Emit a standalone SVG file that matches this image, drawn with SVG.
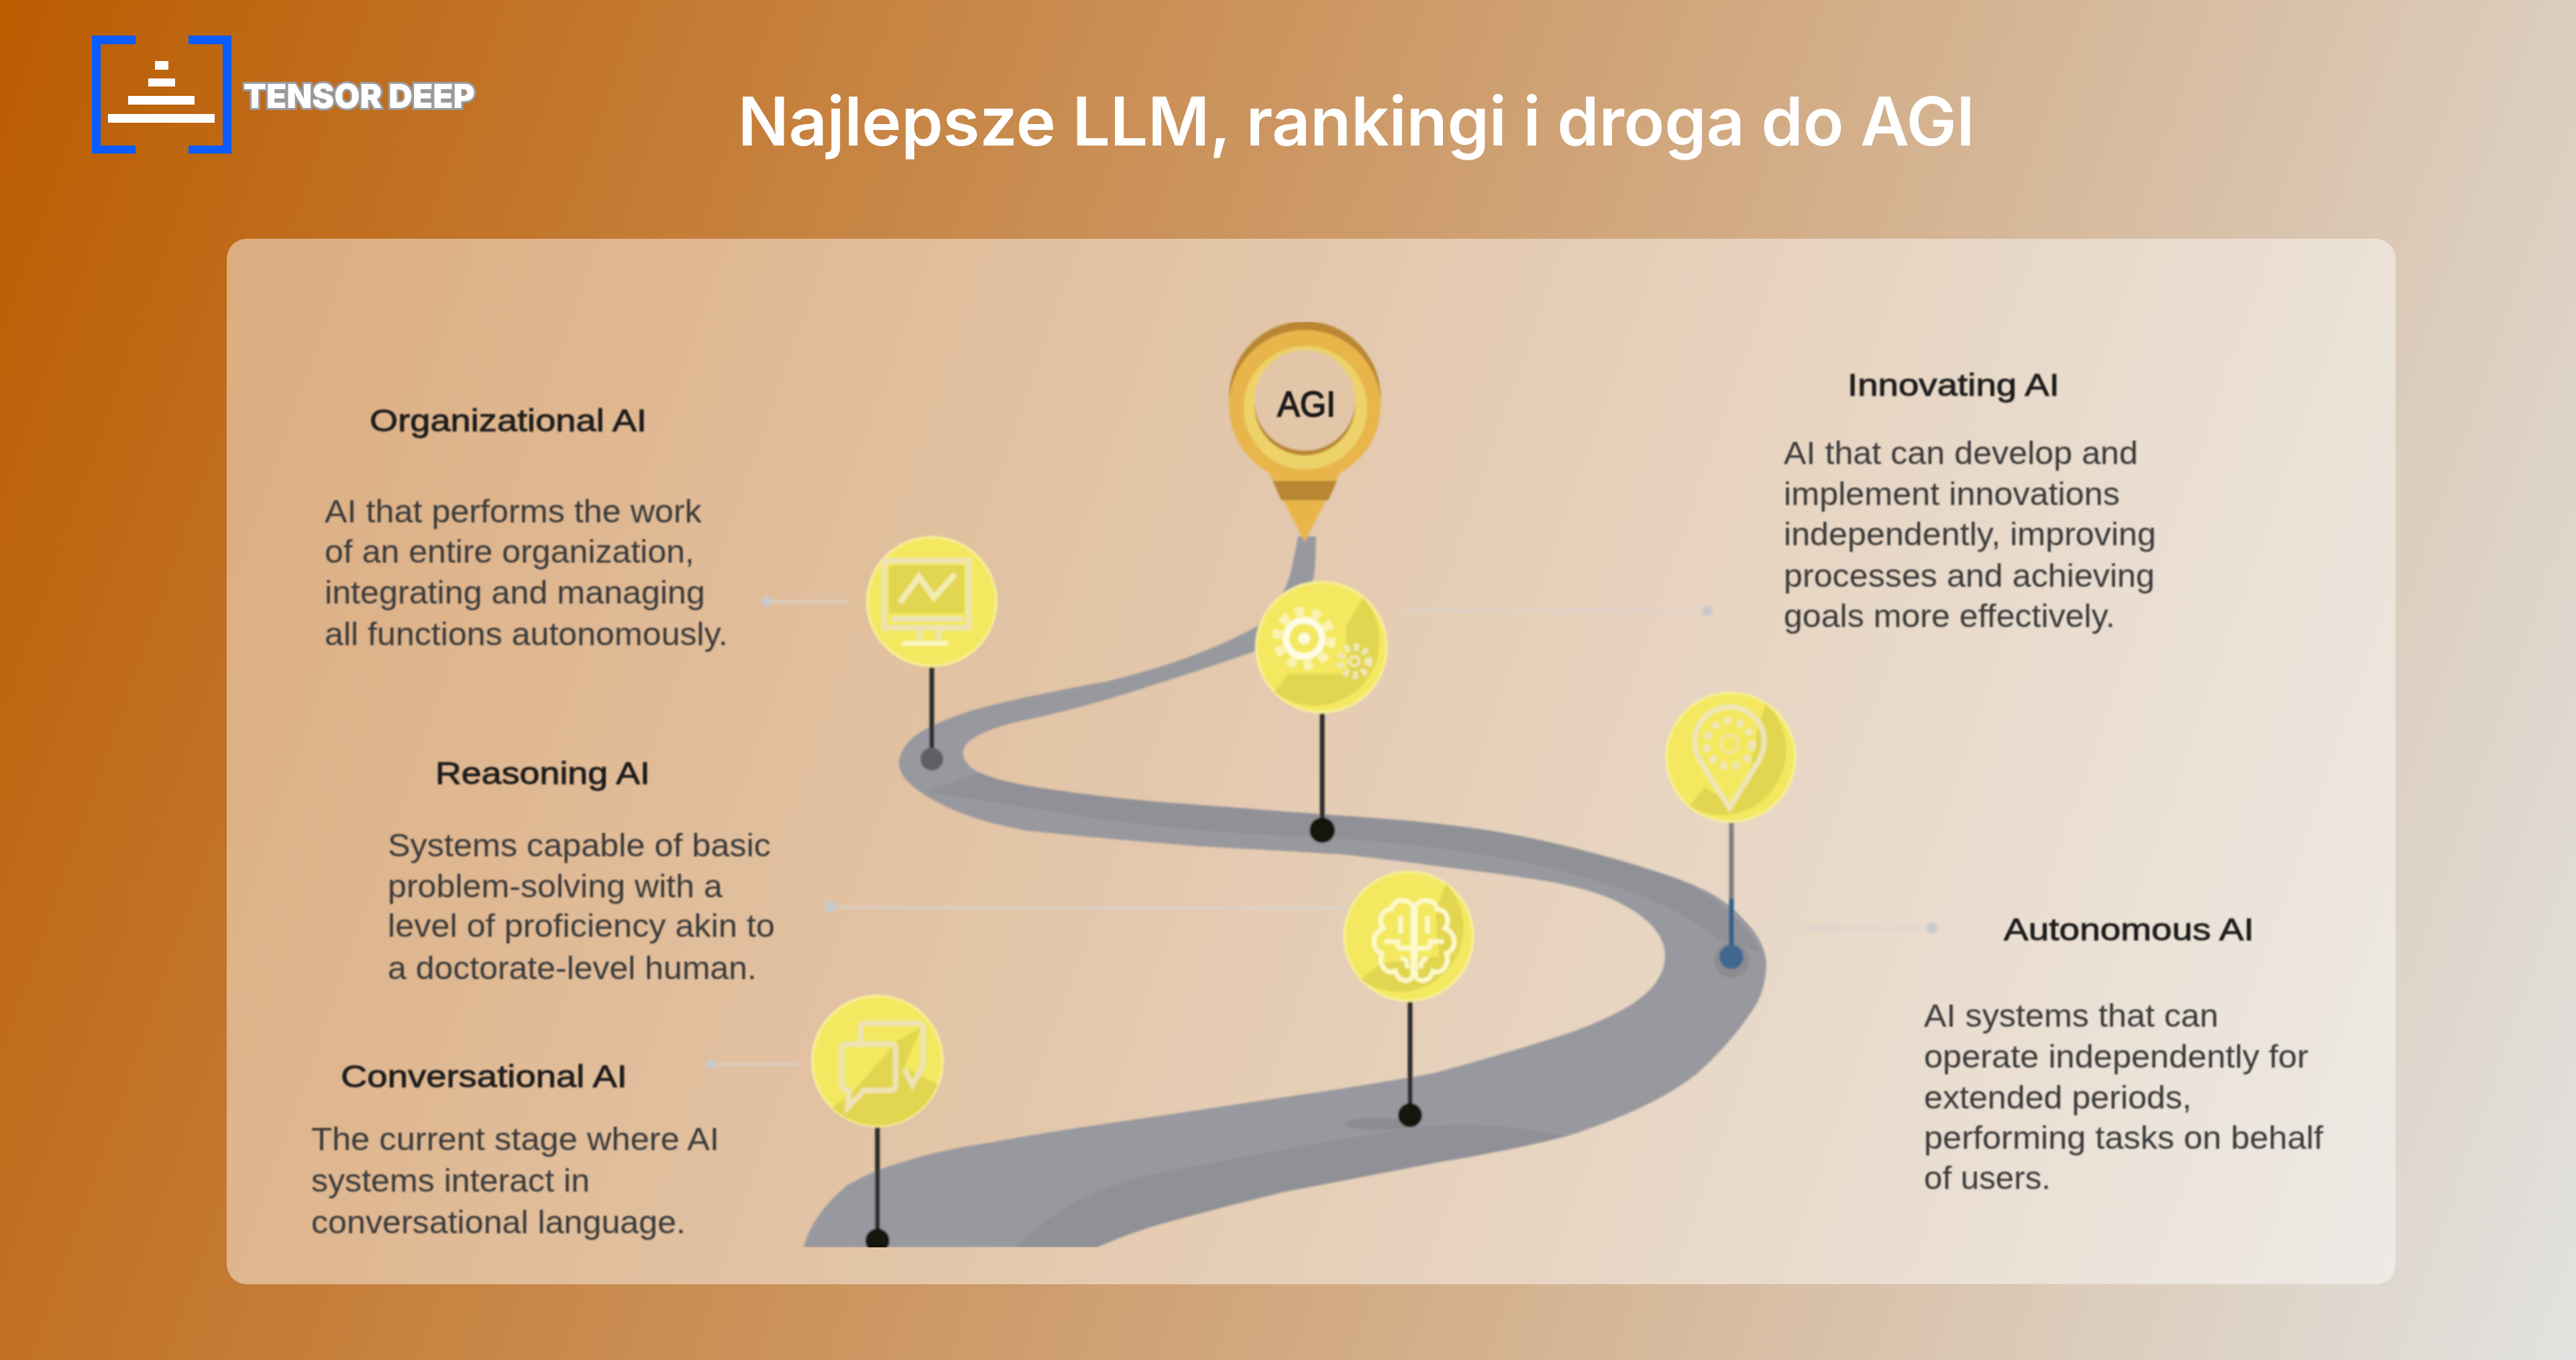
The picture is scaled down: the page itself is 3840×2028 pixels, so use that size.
<svg xmlns="http://www.w3.org/2000/svg" xmlns:xlink="http://www.w3.org/1999/xlink" width="3840" height="2028" viewBox="0 0 3840 2028">
<defs>
<linearGradient id="bg" gradientUnits="userSpaceOnUse" x1="0" y1="0" x2="4053" y2="1417"><stop offset="0" stop-color="#bb5c00"/><stop offset="1" stop-color="#e2e2e0"/></linearGradient>
<filter id="soft" x="-5%" y="-5%" width="110%" height="110%"><feGaussianBlur stdDeviation="1.6"/></filter>
<filter id="softText" x="-5%" y="-10%" width="110%" height="120%"><feGaussianBlur stdDeviation="0.9"/></filter>
<clipPath id="illus"><rect x="1000" y="480" width="1950" height="1380"/></clipPath>
<path id="roadShape" d="M1962 800 L1960 850 Q1950 925 1871 971 Q1760 1010 1650 1043 Q1596 1059 1532 1073 Q1469 1086 1445 1105 Q1425 1124 1447 1144 Q1469 1163 1565 1177 Q1660 1191 1755 1198 Q1851 1205 1925 1211 Q2000 1216 2077 1222 Q2153 1228 2230 1240 Q2306 1253 2382 1274 Q2459 1295 2510 1314 Q2570 1336 2600 1372 Q2633 1405 2633 1440 Q2632 1480 2610 1510 Q2580 1555 2531 1600 Q2470 1650 2340 1693 Q2250 1716 2150 1732 Q2030 1755 1915 1777 Q1820 1800 1724 1827 Q1680 1840 1635 1860 L1198 1860 Q1210 1812 1262 1768 Q1300 1745 1345 1733 Q1400 1715 1469 1705 Q1560 1688 1660 1674 Q1790 1655 1915 1636 Q2040 1618 2138 1600 Q2230 1575 2306 1551 Q2375 1530 2420 1505 Q2482 1470 2482 1425 Q2482 1385 2425 1352 Q2385 1328 2306 1314 Q2230 1302 2153 1293 Q2075 1282 2000 1274 Q1900 1268 1788 1262 Q1660 1252 1533 1239 Q1450 1225 1395 1195 Q1338 1165 1340 1135 Q1345 1100 1399 1078 Q1430 1064 1469 1054 Q1535 1037 1650 1016 Q1780 985 1872 935 Q1912 900 1925 850 Q1930 825 1935 800 Z"/>
<clipPath id="roadClip"><use href="#roadShape"/></clipPath>
<style>
.head{font-family:"Liberation Sans",Arial,sans-serif;font-size:46px;fill:#1d1d1d;stroke:#1d1d1d;stroke-width:.9px}
.body{font-family:"Liberation Sans",Arial,sans-serif;font-size:48px;fill:#3a3a3a}
.leader{stroke:#d9d6d2;stroke-width:5;opacity:.6;fill:none}
.ldot{fill:#c9c9ca}
.stem{stroke:#2a2a2a;stroke-width:7;fill:none}
.disc{fill:#f3e85f;stroke:#f6ee95;stroke-width:4}
.shade{fill:#e2d550}
.iconA{fill:none;stroke:#efe3b4;stroke-width:8}
.iconB{fill:none;stroke:#fdf9c8;stroke-width:7}
</style>
</defs>
<rect id="background" width="3840" height="2028" fill="url(#bg)"/>
<g id="logo">
<path d="M202 53H137V229H202V217H150V66H202Z M281 53H345V229H281V217H332V66H281Z" fill="#0a5cff"/>
<rect x="231" y="91" width="20" height="13" fill="#fff"/>
<rect x="221" y="117" width="40" height="12" fill="#fff"/>
<rect x="191" y="143" width="99" height="13" fill="#fff"/>
<rect x="161" y="170" width="159" height="13" fill="#fff"/>
<text x="363" y="161" font-family="Inter,'Liberation Sans',sans-serif" font-weight="900" font-size="50" textLength="345" lengthAdjust="spacingAndGlyphs" fill="#fff" stroke="#9a9ba0" stroke-width="6" paint-order="stroke">TENSOR DEEP</text>
</g>
<text id="title" x="1100" y="217" font-family="Inter,'Liberation Sans',sans-serif" font-weight="600" font-size="100" textLength="1844" fill="#fff">Najlepsze LLM, rankingi i droga do AGI</text>
<rect id="panel" x="338" y="356" width="3233" height="1559" rx="30" fill="#fff" fill-opacity=".45"/>
<g clip-path="url(#illus)">
<g filter="url(#soft)">
<g id="road">
<use href="#roadShape" fill="#98999e"/>
<g clip-path="url(#roadClip)">
<path d="M1380 1180 L1469 1150 Q1660 1175 2000 1205 Q2300 1230 2480 1300 Q2590 1350 2625 1420 L2560 1400 Q2500 1350 2400 1320 Q2250 1268 1990 1250 Q1750 1240 1600 1215 Z" fill="#909196"/>
<path d="M1507 1870 Q1570 1790 1700 1755 Q1950 1705 2120 1680 Q2230 1670 2360 1700 L2150 1740 L1650 1880 Z" fill="#909196"/>
<ellipse cx="2056" cy="1676" rx="52" ry="9" fill="#8b8c90"/>
</g>
<circle cx="2581" cy="1432" r="26" fill="#8d8d8f"/>
</g>
<g id="connectors">
<path class="leader" d="M1150 897H1265"/><circle class="ldot" cx="1143" cy="897" r="8"/>
<path class="leader" d="M2094 911H2530"/><circle class="ldot" cx="2545" cy="911" r="8"/>
<path class="leader" d="M1250 1353H2040"/><circle class="ldot" cx="1238" cy="1352" r="9"/>
<path class="leader" d="M2627 1384H2870"/><circle class="ldot" cx="2880" cy="1384" r="8"/>
<path class="leader" d="M1070 1587H1190"/><circle class="ldot" cx="1060" cy="1587" r="8"/>
<path class="stem" d="M1389 990V1120"/><circle cx="1389" cy="1132" r="17" fill="#5e6064"/>
<path class="stem" d="M1971 1059V1225"/><circle cx="1971" cy="1238" r="19" fill="#151411"/>
<path class="stem" d="M2102 1490V1650"/><circle cx="2102" cy="1663" r="18" fill="#151411"/>
<path class="stem" d="M1308 1676V1840"/><circle cx="1308" cy="1850" r="18" fill="#151411"/>
<path d="M2581 1222V1340" stroke="#7d7d7f" stroke-width="7"/><path d="M2581 1340V1415" stroke="#2f5f8a" stroke-width="7"/><circle cx="2581" cy="1427" r="18" fill="#40688f"/>
</g>
<g id="agi-pin">
<path d="M1889 700 L1945 808 L2000 700Z" fill="#e8b54c"/>
<circle cx="1945" cy="592" r="113" fill="#b98732"/>
<circle cx="1945" cy="605" r="113" fill="#e8b54c"/>
<path d="M1897 717H1993L1980 746H1910Z" fill="#b98732"/>
<circle cx="1946" cy="608" r="92" fill="#ecd268"/>
<circle cx="1945" cy="604" r="75" fill="#b98732"/>
<circle cx="1945" cy="597" r="75" fill="#e3c6a8"/>
</g>
<g id="node-chart" transform="translate(1389 897)">
<circle class="disc" r="96"/>
<path class="shade" d="M-64 -54H48V17H-64Z"/>
<rect class="iconA" x="-71" y="-61" width="126" height="100"/>
<path d="M-48 2 L-19 -37 L3 -6 L35 -41" fill="none" stroke="#f3ebb0" stroke-width="9"/>
<path class="iconA" d="M-60 26H46"/>
<path class="iconA" d="M-18 39V58M10 39V58"/>
<path d="M-44 59H24V66H-44Z" fill="#fbf7c0"/>
</g>
<g id="node-gears" transform="translate(1970 965)">
<circle class="disc" r="97"/>
<path class="shade" d="M62 -74 A97 97 0 0 1 -70 67 L-50 40 L40 40 L36 -30 Z"/>
<circle cx="-26" cy="-13" r="40" fill="none" stroke="#f9f4b0" stroke-width="14" stroke-dasharray="13 12"/>
<circle cx="-26" cy="-13" r="27" fill="none" stroke="#fefce4" stroke-width="10"/>
<circle cx="-26" cy="-13" r="9" fill="#fdfbe0"/>
<circle cx="49" cy="21" r="21" fill="none" stroke="#f0e8bc" stroke-width="11" stroke-dasharray="7 7"/>
<circle cx="49" cy="21" r="7" fill="none" stroke="#f0e8bc" stroke-width="4"/>
</g>
<g id="node-brain" transform="translate(2100 1396)">
<circle class="disc" r="96"/>
<path class="shade" d="M56 -78 A96 96 0 0 1 -72 64 L-40 40 L45 30 L40 -40 Z"/>
<g transform="translate(8 6)">
<path class="iconB" d="M-2 -52 C-14 -64 -32 -60 -34 -46 C-50 -46 -54 -28 -46 -18 C-64 -10 -64 14 -48 20 C-54 38 -40 52 -28 46 C-24 62 -8 64 -2 54Z"/>
<path class="iconB" transform="scale(-1 1)" d="M-2 -52 C-14 -64 -32 -60 -34 -46 C-50 -46 -54 -28 -46 -18 C-64 -10 -64 14 -48 20 C-54 38 -40 52 -28 46 C-24 62 -8 64 -2 54Z"/>
<path class="iconB" d="M0 -52V54M-20 -36V-10M20 -36V-10M-44 2H-24V12M44 2H24V12M-24 12H24M-20 28Q-10 26 -10 42M20 28Q10 26 10 42"/>
</g>
</g>
<g id="node-pin" transform="translate(2580 1129)">
<circle class="disc" r="96"/>
<path class="shade" d="M52 -80 A96 96 0 0 1 -62 73 L-38 45 L0 70 L28 30 L38 -35 Z"/>
<path fill="none" stroke="#efe5b6" stroke-width="8" d="M-2 76 L-46 5 C-70 -40 -35 -75 -2 -75 C31 -75 66 -40 42 5 Z"/>
<circle cx="-2" cy="-20" r="34" fill="none" stroke="#efe5b6" stroke-width="11" stroke-dasharray="10 9"/>
<circle cx="-2" cy="-20" r="13" fill="#f3e85f" stroke="#efe5b6" stroke-width="3"/>
</g>
<g id="node-chat" transform="translate(1308 1582)">
<circle class="disc" r="97"/>
<path class="shade" d="M-68 69 L-40 50 L30 -30 L65 -50 L40 10 L90 35 A97 97 0 0 1 -68 69Z"/>
<path class="iconA" d="M-25 -25V-48Q-25 -56 -17 -56H60Q68 -56 68 -48V8L52 36L40 12"/>
<path class="iconA" d="M-46 -25H20Q27 -25 27 -18V36Q27 44 20 44H-20L-44 69L-42 44Q-53 44 -53 36V-18Q-53 -25 -46 -25Z"/>
</g>
</g>
</g>
<g filter="url(#softText)">
<text x="1904" y="621" font-family="'Liberation Sans',Arial,sans-serif" font-size="54" textLength="87" lengthAdjust="spacingAndGlyphs" fill="#1a1a1a" stroke="#1a1a1a" stroke-width="1.6">AGI</text>
<g id="label-organizational">
<text class="head" x="551" y="643" textLength="413" lengthAdjust="spacingAndGlyphs">Organizational AI</text>
<text class="body" x="484" y="779" textLength="562" lengthAdjust="spacingAndGlyphs">AI that performs the work</text>
<text class="body" x="484" y="839" textLength="551" lengthAdjust="spacingAndGlyphs">of an entire organization,</text>
<text class="body" x="484" y="900" textLength="567" lengthAdjust="spacingAndGlyphs">integrating and managing</text>
<text class="body" x="484" y="962" textLength="601" lengthAdjust="spacingAndGlyphs">all functions autonomously.</text>
</g>
<g id="label-reasoning">
<text class="head" x="649" y="1169" textLength="320" lengthAdjust="spacingAndGlyphs">Reasoning AI</text>
<text class="body" x="578" y="1277" textLength="571" lengthAdjust="spacingAndGlyphs">Systems capable of basic</text>
<text class="body" x="578" y="1338" textLength="499" lengthAdjust="spacingAndGlyphs">problem-solving with a</text>
<text class="body" x="578" y="1397" textLength="577" lengthAdjust="spacingAndGlyphs">level of proficiency akin to</text>
<text class="body" x="578" y="1460" textLength="550" lengthAdjust="spacingAndGlyphs">a doctorate-level human.</text>
</g>
<g id="label-conversational">
<text class="head" x="508" y="1621" textLength="427" lengthAdjust="spacingAndGlyphs">Conversational AI</text>
<text class="body" x="464" y="1715" textLength="608" lengthAdjust="spacingAndGlyphs">The current stage where AI</text>
<text class="body" x="464" y="1777" textLength="415" lengthAdjust="spacingAndGlyphs">systems interact in</text>
<text class="body" x="464" y="1839" textLength="558" lengthAdjust="spacingAndGlyphs">conversational language.</text>
</g>
<g id="label-innovating">
<text class="head" x="2754" y="590" textLength="316" lengthAdjust="spacingAndGlyphs">Innovating AI</text>
<text class="body" x="2659" y="692" textLength="528" lengthAdjust="spacingAndGlyphs">AI that can develop and</text>
<text class="body" x="2659" y="753" textLength="501" lengthAdjust="spacingAndGlyphs">implement innovations</text>
<text class="body" x="2659" y="813" textLength="555" lengthAdjust="spacingAndGlyphs">independently, improving</text>
<text class="body" x="2659" y="875" textLength="553" lengthAdjust="spacingAndGlyphs">processes and achieving</text>
<text class="body" x="2659" y="935" textLength="494" lengthAdjust="spacingAndGlyphs">goals more effectively.</text>
</g>
<g id="label-autonomous">
<text class="head" x="2987" y="1402" textLength="373" lengthAdjust="spacingAndGlyphs">Autonomous AI</text>
<text class="body" x="2868" y="1531" textLength="439" lengthAdjust="spacingAndGlyphs">AI systems that can</text>
<text class="body" x="2868" y="1592" textLength="573" lengthAdjust="spacingAndGlyphs">operate independently for</text>
<text class="body" x="2868" y="1653" textLength="399" lengthAdjust="spacingAndGlyphs">extended periods,</text>
<text class="body" x="2868" y="1713" textLength="595" lengthAdjust="spacingAndGlyphs">performing tasks on behalf</text>
<text class="body" x="2868" y="1773" textLength="189" lengthAdjust="spacingAndGlyphs">of users.</text>
</g>
</g>
</svg>
